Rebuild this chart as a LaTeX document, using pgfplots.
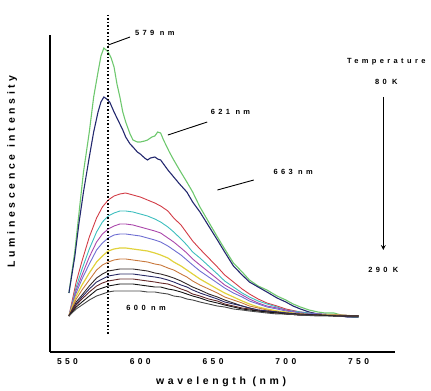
\documentclass[border=0pt]{standalone}
\usepackage{fontspec}
\setmainfont{Liberation Sans}
\newfontfamily\lab[LetterSpace=45]{Liberation Sans Bold}
\newfontfamily\labw[LetterSpace=35]{Liberation Sans Bold}
\newfontfamily\labt[LetterSpace=40]{Liberation Sans Bold}
\usepackage{pgfplots}
\pgfplotsset{compat=1.18}
\definecolor{cgreen}{RGB}{110,200,110}
\definecolor{cnavy}{RGB}{35,40,110}
\definecolor{cred}{RGB}{210,60,70}
\definecolor{ccyan}{RGB}{60,190,190}
\definecolor{cmag}{RGB}{170,70,170}
\definecolor{cblue}{RGB}{110,110,210}
\definecolor{cyel}{RGB}{225,210,60}
\definecolor{corg}{RGB}{200,120,60}
\definecolor{cd1}{RGB}{50,40,40}
\definecolor{cd2}{RGB}{40,40,100}
\definecolor{cd3}{RGB}{100,40,40}
\definecolor{cd4}{RGB}{20,20,20}
\definecolor{cd5}{RGB}{70,70,70}
\tikzset{ann/.style={font=\lab\fontsize{7.5}{8}\selectfont}}
\begin{document}
\begin{tikzpicture}
\begin{axis}[
  scale only axis, width=345bp, height=317bp,
  at={(0,0)}, anchor=south west,
  xmin=538, xmax=775, ymin=0, ymax=317,
  axis x line*=bottom, axis y line*=left,
  axis line style={line width=1.2pt, -},
  ytick=\empty,
  xtick={550,600,650,700,750},
  major tick length=0pt,
  /pgf/number format/assume math mode=true,
  xticklabel style={font=\labt\fontsize{8.5}{9}\selectfont, yshift=-3pt},
  xlabel={wavelength (nm)}, ylabel={Luminescence intensity},
  xlabel style={font=\labw\fontsize{10.5}{11}\selectfont, at={(axis description cs:0.496,-0.095)}, anchor=center},
  ylabel style={font=\labw\fontsize{10.5}{11}\selectfont, at={(axis description cs:-0.11,0.57)}, anchor=center, rotate=0},
  clip=false,
  every axis plot/.style={line width=0.9pt, mark=none},
]
% green (lowest temperature)
\addplot[cgreen, line width=1.1pt] coordinates {(551,59)(555,100)(558,140)(561,180)(565,220)(568,255)(571,280)(573,296)(575,304)(578,300)(580,294)(582,285)(584,268)(586,255)(588,240)(590,230)(593,218)(595,212)(598,210)(600,210)(603,211)(605,212)(608,215)(610,216)(612,220)(614,219)(616,212)(618,206)(620,200)(623,192)(627,182)(632,170)(636,160)(641,145)(647,130)(653,115)(658,103)(664,89)(670,80)(675,72)(681,66)(687,62)(694,56)(700,52)(705,48)(710,45)(716,42)(722,40)(727,39)(733,39)(738,37)(742,36)(746,35)(750,35)};
% navy
\addplot[cnavy, line width=1.1pt] coordinates {(551,59)(555,95)(558,130)(561,160)(565,195)(568,220)(571,240)(573,250)(575,255)(577,253)(579,250)(582,240)(584,234)(586,228)(588,222)(590,215)(593,208)(595,205)(598,200)(600,198)(603,194)(605,192)(607,194)(610,195)(612,193)(614,192)(617,186)(619,182)(623,175)(627,168)(632,160)(636,150)(641,140)(647,126)(653,112)(658,100)(664,86)(670,77)(675,70)(681,65)(687,60)(694,54)(700,50)(705,46)(710,43)(716,40)(722,38)(727,37)(733,37)(738,36)(742,35)(746,35)(750,35)};
\addplot[cred] coordinates {(551,36)(556,70)(560,91)(565,115)(570,134)(574,145)(578,152)(582,156)(586,158)(590,159)(595,157)(600,155)(605,152)(610,149)(614,146)(619,141)(623,134)(628,127)(632,119)(636,111)(641,103)(647,94)(653,85)(658,77)(664,70)(670,63)(675,58)(681,53)(687,49)(694,46)(700,43)(710,40)(722,38)(735,37)(750,36)};
\addplot[ccyan] coordinates {(551,36)(556,65)(560,83)(565,103)(570,120)(574,130)(578,136)(582,139)(586,141)(590,141)(595,140)(600,138)(605,136)(610,133)(614,130)(619,125)(623,120)(628,113)(632,107)(636,100)(641,94)(647,86)(653,78)(658,71)(664,65)(670,59)(675,55)(681,51)(687,48)(694,45)(700,42)(710,40)(722,38)(735,37)(750,36)};
\addplot[cmag] coordinates {(551,36)(556,62)(560,77)(565,95)(570,110)(574,118)(578,123)(582,126)(586,128)(590,128)(595,127)(600,125)(605,123)(610,121)(614,119)(619,114)(623,110)(628,104)(632,99)(636,93)(641,87)(647,80)(653,73)(658,67)(664,62)(670,57)(675,53)(681,49)(687,46)(694,44)(700,42)(710,39)(722,38)(735,37)(750,36)};
\addplot[cblue] coordinates {(551,36)(556,59)(560,73)(565,88)(570,102)(574,109)(578,114)(582,117)(586,118)(590,118)(595,117)(600,116)(605,114)(610,112)(614,110)(619,106)(623,102)(628,97)(632,92)(636,87)(641,81)(647,75)(653,69)(658,64)(664,59)(670,55)(675,51)(681,48)(687,45)(694,43)(700,41)(710,39)(722,38)(735,37)(750,36)};
\addplot[cyel, line width=1.2pt] coordinates {(551,36)(556,56)(560,67)(565,79)(570,90)(574,96)(578,101)(582,103)(586,104)(590,104)(595,103)(600,102)(605,101)(610,99)(614,97)(619,94)(623,90)(628,86)(632,82)(636,78)(641,73)(647,68)(653,63)(658,59)(664,55)(670,51)(675,48)(681,45)(687,43)(694,41)(700,40)(710,38)(722,37)(735,37)(750,36)};
\addplot[corg] coordinates {(551,36)(556,53)(560,62)(565,72)(570,82)(574,87)(578,90)(582,92)(586,93)(590,93)(595,92)(600,91)(605,90)(610,88)(614,87)(619,84)(623,82)(628,78)(632,75)(636,71)(641,67)(647,63)(653,59)(658,55)(664,52)(670,49)(675,46)(681,44)(687,42)(694,40)(700,39)(710,38)(722,37)(735,37)(750,36)};
\addplot[cd1] coordinates {(551,36)(556,50)(560,57)(565,66)(570,74)(574,78)(578,81)(582,82)(586,83)(590,83)(595,83)(600,82)(605,81)(610,79)(614,78)(619,76)(623,74)(628,71)(632,68)(636,65)(641,62)(647,58)(653,55)(658,52)(664,49)(670,46)(675,44)(681,42)(687,41)(694,40)(700,39)(710,38)(722,37)(735,36)(750,36)};
\addplot[cd2] coordinates {(551,36)(556,48)(560,55)(565,63)(570,70)(574,73)(578,76)(582,77)(586,78)(590,78)(595,78)(600,77)(605,76)(610,75)(614,74)(619,72)(623,70)(628,67)(632,65)(636,62)(641,59)(647,56)(653,53)(658,50)(664,48)(670,46)(675,44)(681,42)(687,41)(694,40)(700,39)(710,37)(722,37)(735,36)(750,36)};
\addplot[cd3] coordinates {(551,36)(556,47)(560,53)(565,60)(570,66)(574,69)(578,71)(582,72)(586,73)(590,73)(595,73)(600,72)(605,71)(610,70)(614,69)(619,68)(623,66)(628,63)(632,61)(636,58)(641,56)(647,53)(653,51)(658,48)(664,46)(670,44)(675,43)(681,41)(687,40)(694,39)(700,38)(710,37)(722,37)(735,36)(750,36)};
\addplot[cd4] coordinates {(551,36)(556,45)(560,50)(565,56)(570,62)(574,64)(578,66)(582,67)(586,68)(590,68)(595,68)(600,67)(605,66)(610,65)(614,65)(619,63)(623,62)(628,60)(632,58)(636,56)(641,54)(647,51)(653,49)(658,47)(664,45)(670,43)(675,42)(681,41)(687,40)(694,39)(700,38)(710,37)(722,37)(735,36)(750,36)};
\addplot[cd5] coordinates {(551,36)(556,43)(560,47)(565,52)(570,56)(574,58)(578,60)(582,61)(586,61)(590,61)(595,61)(600,61)(605,60)(610,60)(614,59)(619,58)(623,56)(628,55)(632,53)(636,52)(641,50)(647,48)(653,46)(658,45)(664,43)(670,42)(675,41)(681,40)(687,39)(694,38)(700,38)(710,37)(722,36)(735,36)(750,36)};
% dotted marker line at peak
\draw[dotted, line width=1.5pt, black] (axis cs:578,337) -- (axis cs:578,17);
% annotations
\draw[line width=0.9pt] (axis cs:578,307) -- (axis cs:593,315);
\node[ann] at (axis cs:610,319) {579 nm};
\draw[line width=0.9pt] (axis cs:619,217) -- (axis cs:646,230);
\node[ann] at (axis cs:662,240) {621 nm};
\draw[line width=0.9pt] (axis cs:653,162) -- (axis cs:678,172);
\node[ann] at (axis cs:705,180) {663 nm};
\node[ann] at (axis cs:604,44) {600 nm};
\node[ann] at (axis cs:769,290) {Temperature};
\node[ann] at (axis cs:769,270) {80 K};
\draw[line width=1.2pt, -stealth] (axis cs:767,255) -- (axis cs:767,102);
\node[ann] at (axis cs:767,82) {290 K};
\end{axis}
\pgfresetboundingbox
\path[use as bounding box] (-50bp,-39bp) rectangle (381bp,352bp);
\end{tikzpicture}
\end{document}
